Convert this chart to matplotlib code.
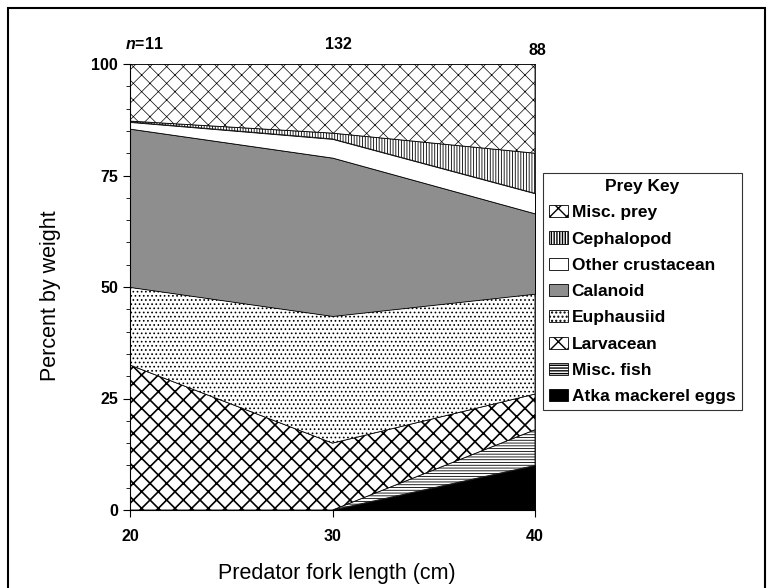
import numpy as np
import matplotlib
matplotlib.use("Agg")
import matplotlib.pyplot as plt
from matplotlib.patches import Rectangle

plt.rcParams['font.family'] = ['Liberation Sans', 'DejaVu Sans']
plt.rcParams['mathtext.fontset'] = 'custom'
plt.rcParams['mathtext.it'] = 'Liberation Sans:italic:bold'

# predator fork length (cm) and sample sizes
lengths = [20, 30, 40]
n_labels = ['$n$=11', '132', '88']

# percent by weight of each prey group, bottom to top
eggs = [0, 0, 10]
misc_fish = [0, 0, 8]
larvacean = [32.5, 15, 8]
euphausiid = [17.5, 28.5, 22.5]
calanoid = [35.5, 35.5, 18]
other_crust = [1.5, 4.2, 4.5]
cephalopod = [0.2, 1.3, 9]
misc_prey = [12.8, 15.5, 20]

names = ['Atka mackerel eggs', 'Misc. fish', 'Larvacean', 'Euphausiid',
         'Calanoid', 'Other crustacean', 'Cephalopod', 'Misc. prey']
series = [eggs, misc_fish, larvacean, euphausiid, calanoid, other_crust, cephalopod, misc_prey]
# facecolor, hatch, hatch linewidth
styles = [('black', None, 0.6),
          ('white', '------', 0.6),
          ('white', 'xx', 1.2),
          ('white', '....', 0.7),
          ('#8e8e8e', None, 0.6),
          ('white', None, 0.6),
          ('white', '||||||', 0.6),
          ('white', 'xx', 0.5)]

fig = plt.figure(figsize=(7.73, 5.88), dpi=100)
ax = fig.add_axes([130 / 773, 1 - 510 / 588, 405 / 773, 446 / 588])

x = np.array(lengths)
base = np.zeros(3)
handles = []
for name, vals, (fc, hatch, hlw) in zip(names, series, styles):
    top = base + np.array(vals)
    with plt.rc_context({'hatch.linewidth': hlw}):
        poly = ax.fill_between(x, base, top, facecolor=fc, hatch=hatch,
                               edgecolor='black', linewidth=0.6, label=name)
    handles.append(poly)
    base = top

ax.set_xlim(20, 40)
ax.set_ylim(0, 100)
ax.set_xticks(lengths)
ax.set_yticks([0, 25, 50, 75, 100])
ax.set_yticks(np.arange(0, 101, 5), minor=True)
ax.tick_params(axis='both', which='major', direction='out', length=5, labelsize=11.5)
ax.tick_params(axis='y', which='minor', direction='out', length=3)
for lbl in ax.get_xticklabels() + ax.get_yticklabels():
    lbl.set_fontweight('bold')
ax.tick_params(axis='x', pad=9)
for s in ['top', 'right']:
    ax.spines[s].set_linewidth(0.6)

ax.set_ylabel('Percent by weight', fontsize=15.5, va='center')
ax.yaxis.set_label_coords(-0.1975, 0.48)
ax.set_xlabel('Predator fork length (cm)', fontsize=15.5, va='center')
ax.xaxis.set_label_coords(0.51, -0.143)

n_x = [20.7, 30.27, 40.1]
n_y = [104.5, 104.4, 103.1]
for xv, yv, lab in zip(n_x, n_y, n_labels):
    ax.text(xv, yv, lab, ha='center', va='center', fontsize=11.5, fontweight='bold')

leg = ax.legend(handles[::-1], names[::-1], title='Prey Key', loc='upper left',
                bbox_to_anchor=(1.02, 0.7556), frameon=True, fancybox=False,
                edgecolor='black', prop={'weight': 'bold', 'size': 12.5},
                title_fontproperties={'weight': 'bold', 'size': 12.5},
                handlelength=1.1, handleheight=0.7, handletextpad=0.2,
                borderpad=0.35, labelspacing=0.64, borderaxespad=0)
leg.get_frame().set_linewidth(0.8)

fig.patches.append(Rectangle((8 / 773, -0.05), 757 / 773, 1.05 - 8 / 588,
                             transform=fig.transFigure, fill=False,
                             edgecolor='black', linewidth=1.5))

fig.savefig('out.png', dpi=100)
